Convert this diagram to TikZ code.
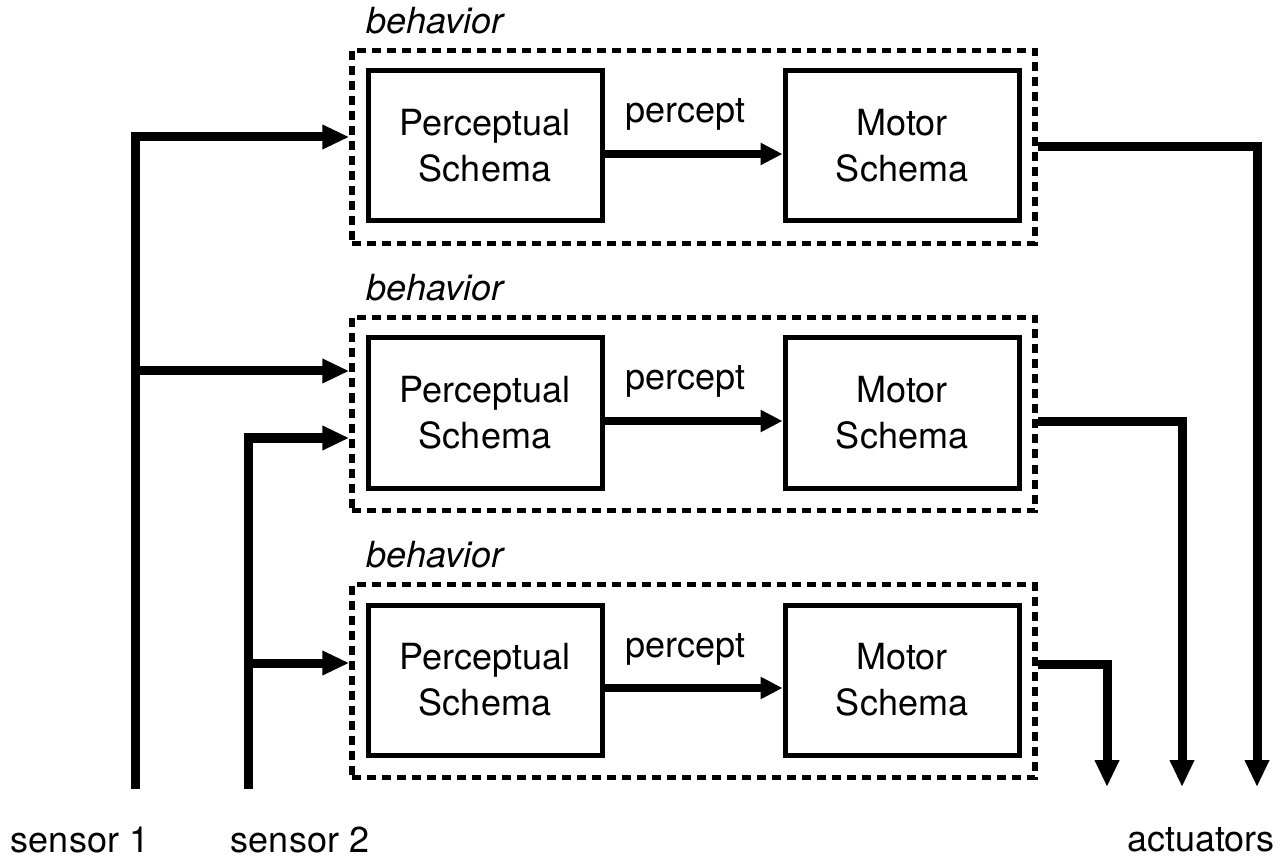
\documentclass[tikz,border=0pt]{standalone}
\usepackage{fontspec}
\setmainfont{TeX Gyre Heros}
\usetikzlibrary{arrows.meta}

\begin{document}
\begin{tikzpicture}[x=0.5pt,y=-0.5pt,
  font=\fontsize{18}{23}\selectfont,
  behbox/.style={draw,line width=2.75pt,dash pattern=on 4.5pt off 3pt,minimum width=341.5pt,minimum height=96.5pt,inner sep=0pt},
  schbox/.style={draw,line width=2.5pt,minimum width=117pt,minimum height=75pt,align=center,inner sep=0pt},
  conn/.style={line width=4.5pt,-{Triangle[length=13.5pt,width=11.5pt]}}]
\useasboundingbox (0,0) rectangle (1283,860);

\foreach \i/\y in {1/146,2/413,3/680}{
  \node[behbox] (beh\i) at (693.5,\y+1) {};
  \node[schbox] (ps\i) at (485,\y) {Perceptual\\Schema};
  \node[schbox] (ms\i) at (902,\y) {Motor\\Schema};
  \node[anchor=base west,inner sep=0pt,font=\fontsize{18}{23}\selectfont\itshape] (lab\i) at ([xshift=8.5pt,yshift=7pt]beh\i.north west) {behavior};
  \draw[line width=4pt,-{Triangle[length=11pt,width=10.5pt]}] ([yshift=-4pt]ps\i.east) -- node[anchor=base,xshift=-4pt,yshift=15.5pt] {percept} ([yshift=-4pt]ms\i.west);
}

\coordinate (sen1) at (135,789);
\coordinate (sen2) at (248,789);
\path (beh1.west) ++(0,-10) coordinate (in11);
\path (beh2.west) ++(0,-43) coordinate (in21);
\path (beh2.west) ++(0,24) coordinate (in22);
\path (beh3.west) ++(0,-18) coordinate (in3);
\path (beh2.east) ++(0,8) coordinate (out2);
\path (beh3.east) ++(0,-17) coordinate (out3);
\coordinate (act1) at (1257,787);
\coordinate (act2) at (1182,787);
\coordinate (act3) at (1107,787);

\draw[conn] (sen1) |- (in11);
\draw[conn] (sen1 |- in21) -- (in21);
\draw[conn] (sen2) |- (in22);
\draw[conn] (sen2 |- in3) -- (in3);

\draw[conn] (beh1.east) -| (act1);
\draw[conn] (out2) -| (act2);
\draw[conn] (out3) -| (act3);

\node (sensor1) at (80,840) {sensor 1};
\node (sensor2) at (300,840) {sensor 2};
\node (actuators) at (1201,840) {actuators};
\end{tikzpicture}
\end{document}
